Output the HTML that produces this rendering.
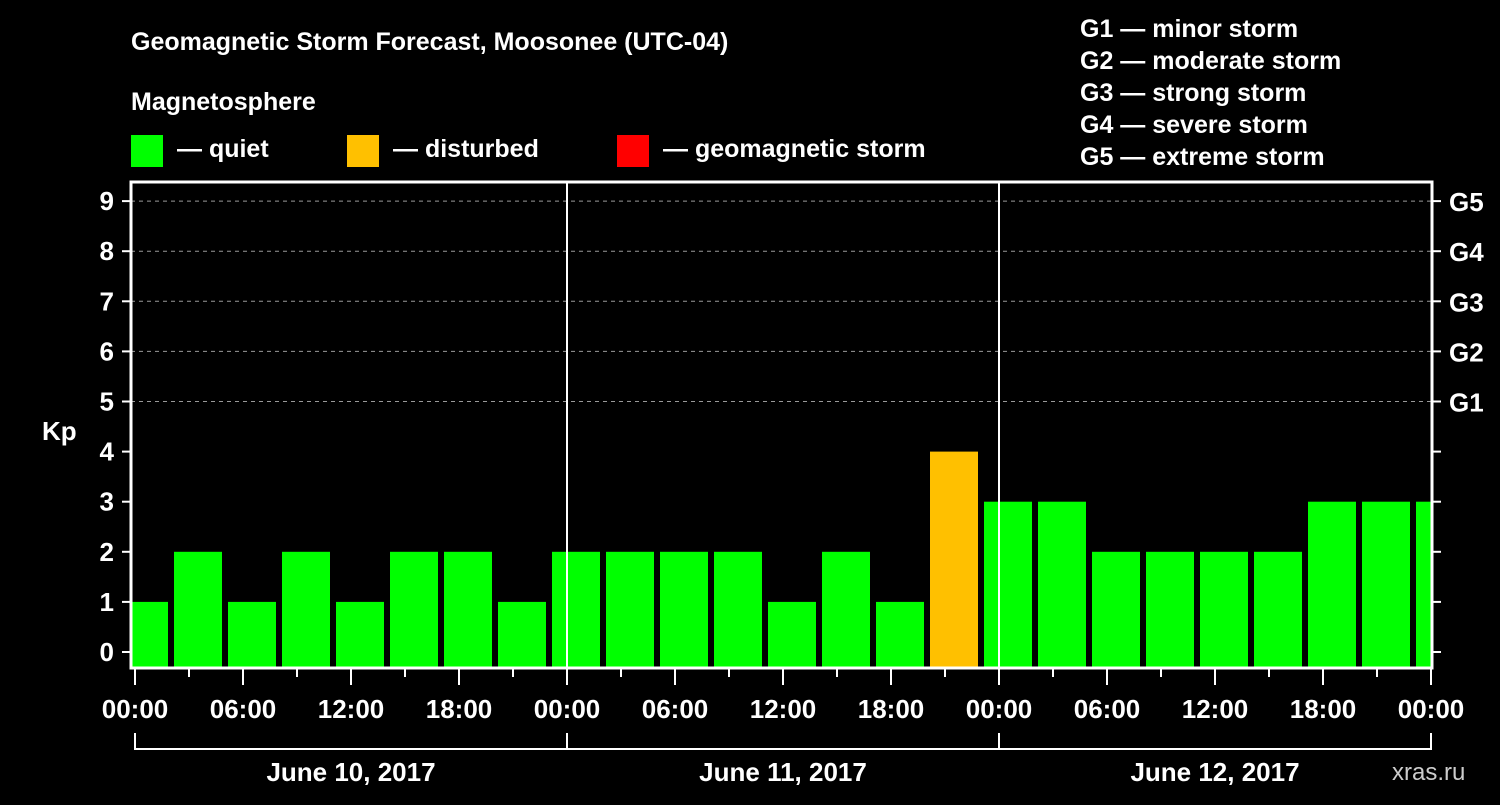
<!DOCTYPE html>
<html><head><meta charset="utf-8"><style>
body{margin:0;background:#000;width:1500px;height:800px;overflow:hidden}
svg text{font-family:"Liberation Sans",sans-serif;font-weight:bold;fill:#fff}
</style></head><body>
<svg id="chart" width="1500" height="800" xmlns="http://www.w3.org/2000/svg">
<text x="131" y="50" font-size="25">Geomagnetic Storm Forecast, Moosonee (UTC-04)</text>
<text x="131" y="110" font-size="25">Magnetosphere</text>
<rect x="131" y="135" width="32" height="32" fill="#00ff00"/>
<text x="177" y="157" font-size="25">— quiet</text>
<rect x="347" y="135" width="32" height="32" fill="#ffc000"/>
<text x="393" y="157" font-size="25">— disturbed</text>
<rect x="617" y="135" width="32" height="32" fill="#ff0000"/>
<text x="663" y="157" font-size="25">— geomagnetic storm</text>
<g font-size="25">
<text x="1080" y="37">G1 — minor storm</text>
<text x="1080" y="69">G2 — moderate storm</text>
<text x="1080" y="101">G3 — strong storm</text>
<text x="1080" y="133">G4 — severe storm</text>
<text x="1080" y="165">G5 — extreme storm</text>
</g>
<text x="42" y="440" font-size="26">Kp</text>
<text x="1392" y="780" font-size="24" fill="#ccc" style="fill:#ccc;font-weight:normal">xras.ru</text>
<g id="plot"></g>
</svg>
<script>
const kpValues=[1,2,1,2,1,2,2,1, 2,2,2,2,1,2,1,4, 3,3,2,2,2,2,3,3, 3];
const xTickLabels=["00:00","06:00","12:00","18:00","00:00","06:00","12:00","18:00","00:00","06:00","12:00","18:00","00:00"];
const dayLabels=["June 10, 2017","June 11, 2017","June 12, 2017"];
const gLabels=["G1","G2","G3","G4","G5"];
const firstBlockHour=-1;
const NS="http://www.w3.org/2000/svg";
const L=131,R=1432,T=182,B=668,X0=135,PXH=18;
const xs=h=>X0+h*PXH;
const ys=v=>652-v*50.1;
const g=document.getElementById('plot');
function mk(t,a){const e=document.createElementNS(NS,t);for(const k in a)e.setAttribute(k,a[k]);g.appendChild(e);return e;}
// clip
const defs=mk('defs',{});
const cp=document.createElementNS(NS,'clipPath');cp.setAttribute('id','clip');defs.appendChild(cp);
const cr=document.createElementNS(NS,'rect');cr.setAttribute('x',L+1);cr.setAttribute('y',T);cr.setAttribute('width',R-L-2);cr.setAttribute('height',B-T);cp.appendChild(cr);
// grid
for(let v=5;v<=9;v++){
 const l=mk('line',{x1:L,x2:R,y1:ys(v),y2:ys(v),stroke:'#999','stroke-dasharray':'4,4','stroke-width':1});
 
 
}
// bars
kpValues.forEach((v,i)=>{
 const h0=firstBlockHour+i*3;
 const col=v>=5?'#ff0000':(v>=4?'#ffc000':'#00ff00');
 const r=mk('rect',{x:xs(h0)+3,y:ys(v),width:48,height:B-1-ys(v),fill:col,'clip-path':'url(#clip)'});
 
 
});
// day separators
[24,48].forEach((h,i)=>{
 const l=mk('line',{x1:xs(h),x2:xs(h),y1:T,y2:B,stroke:'#fff','stroke-width':2});
 
 
});
// frame
const fr=mk('path',{d:`M${L},${T}H${R}V${B}H${L}Z`,fill:'none',stroke:'#fff','stroke-width':3});


// y ticks
for(let v=0;v<=9;v++){
 mk('line',{x1:L-9,x2:L,y1:ys(v),y2:ys(v),stroke:'#fff','stroke-width':2});
 mk('line',{x1:R,x2:R+9,y1:ys(v),y2:ys(v),stroke:'#fff','stroke-width':2});
 const t=mk('text',{x:L-17,y:ys(v)+9,'font-size':26,'text-anchor':'end'});t.textContent=v;
 
 
}
gLabels.forEach((s,i)=>{
 const t=mk('text',{x:R+17,y:ys(i+5)+10,'font-size':26});t.textContent=s;
 
 
});
// x ticks
for(let h=0;h<=72;h+=3){
 const major=h%6===0;
 mk('line',{x1:xs(h),x2:xs(h),y1:B,y2:B+(major?17:9),stroke:'#fff','stroke-width':2});
}
xTickLabels.forEach((s,i)=>{
 const t=mk('text',{x:xs(i*6),y:718,'font-size':26,'text-anchor':'middle'});t.textContent=s;
 
 
});
// day brackets
mk('path',{d:`M${xs(0)},733V749H${xs(72)}V733M${xs(24)},733V749M${xs(48)},733V749`,fill:'none',stroke:'#fff','stroke-width':2});
dayLabels.forEach((s,i)=>{
 const t=mk('text',{x:xs(i*24+12),y:781,'font-size':26,'text-anchor':'middle'});t.textContent=s;
 
 
});
</script>
</body></html>
